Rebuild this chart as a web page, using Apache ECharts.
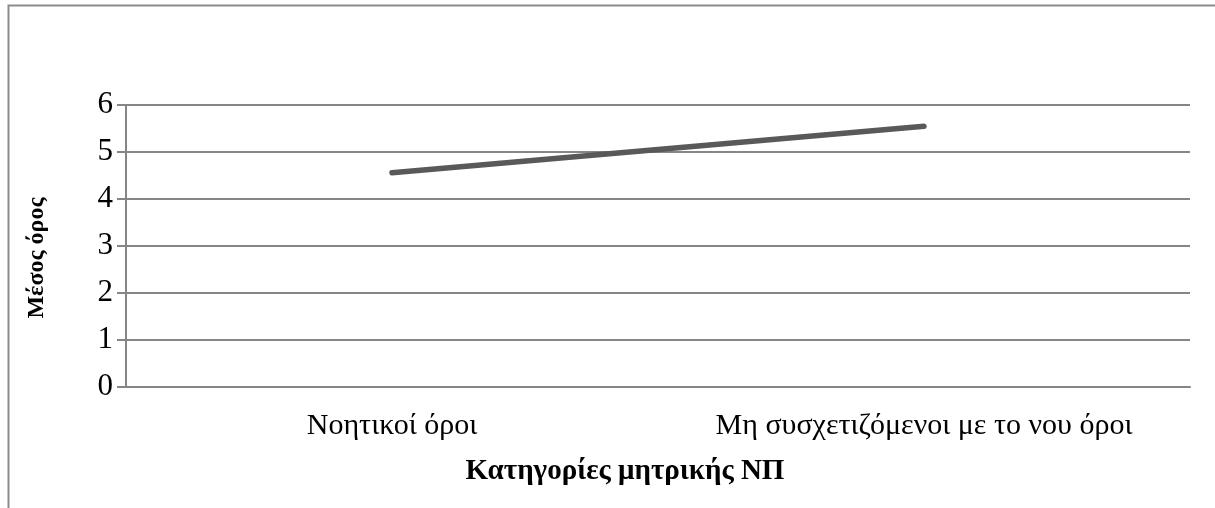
<!DOCTYPE html>
<html>
<head>
<meta charset="utf-8">
<script src="https://cdn.jsdelivr.net/npm/echarts@6/dist/echarts.min.js"></script>
<style>
  html, body { margin: 0; padding: 0; background: #fff; }
  #chart { width: 1215px; height: 508px; }
</style>
</head>
<body>
<div id="chart"></div>
<script>
// δεδομένα
const categories = ['Νοητικοί όροι', 'Μη συσχετιζόμενοι με το νου όροι'];
const meanValues = [4.56, 5.55];
const yTicks = [0, 1, 2, 3, 4, 5, 6];

const chart = echarts.init(document.getElementById('chart'));
const serif = '"Liberation Serif", "DejaVu Serif", serif';

chart.setOption({
    animation: false,
    graphic: [{
        type: 'rect',
        shape: { x: 8.5, y: 5.5, width: 1300, height: 600 },
        style: { fill: 'none', stroke: '#8c8c8c', lineWidth: 2 },
        silent: true
    }],
    grid: { left: 126, right: 25, top: 105, bottom: 121 },
    xAxis: {
        type: 'category',
        data: categories,
        name: 'Κατηγορίες μητρικής ΝΠ',
        nameLocation: 'middle',
        nameGap: 70,
        nameTextStyle: { fontFamily: serif, fontSize: 29, fontWeight: 'bold', color: '#000', padding: [0, 66, 0, 0] },
        axisLine: { lineStyle: { color: '#868686', width: 2 } },
        axisTick: { show: false },
        axisLabel: { fontFamily: serif, fontSize: 30, color: '#000', margin: 24, interval: 0, hideOverlap: false }
    },
    yAxis: {
        type: 'value',
        min: yTicks[0],
        max: yTicks[yTicks.length - 1],
        interval: 1,
        name: 'Μέσος όρος',
        nameLocation: 'middle',
        nameGap: 77,
        nameTextStyle: { fontFamily: serif, fontSize: 24, fontWeight: 'bold', color: '#000', padding: [0, 24, 0, 0] },
        axisLine: { show: true, lineStyle: { color: '#868686', width: 2 } },
        axisTick: { show: true, length: 9, lineStyle: { color: '#868686', width: 2 } },
        axisLabel: { fontFamily: serif, fontSize: 31, color: '#000', margin: 13 },
        splitLine: { lineStyle: { color: '#868686', width: 2 } }
    },
    series: [{
        type: 'line',
        data: meanValues,
        symbol: 'none',
        lineStyle: { color: '#595959', width: 5.5, cap: 'round' }
    }]
});
</script>
</body>
</html>
